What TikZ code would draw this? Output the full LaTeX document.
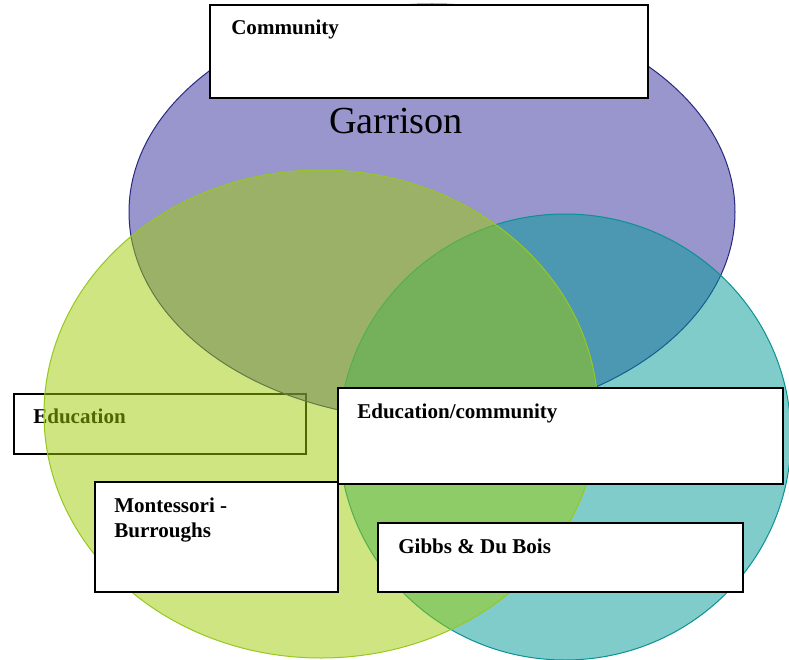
\documentclass[tikz,border=0pt]{standalone}
\usepackage{fontspec}
\setmainfont{Liberation Serif}
\definecolor{communityfill}{RGB}{49,45,153}
\definecolor{communityline}{RGB}{40,40,130}
\definecolor{educationfill}{RGB}{158,204,4}
\definecolor{educationline}{RGB}{150,200,30}
\definecolor{sharedfill}{RGB}{1,153,151}
\definecolor{sharedline}{RGB}{10,145,150}

\begin{document}
\begin{tikzpicture}[x=0.75pt, y=-0.75pt,
  labelbox/.style={draw=black, line width=1.5pt, fill=white, anchor=north west, inner sep=0pt},
  labeltext/.style={anchor=base west, inner sep=0pt, align=left, font=\fontsize{15.8}{18.75}\selectfont\bfseries},
  circle set/.style={line width=0.75pt, fill opacity=0.5}]
\useasboundingbox (0,0) rectangle (789,660);

% Education label (sits under the circles)
\node[labelbox, minimum width=219pt, minimum height=45pt] (education) at (13,393) {};
\node[labeltext] (education-text) at ([shift={(20,30)}]education.north west) {Education};

% Venn circles
\draw[circle set, draw=communityline, fill=communityfill] (432,212) ellipse [x radius=303, y radius=208];
\draw[circle set, draw=sharedline, fill=sharedfill] (565,437) ellipse [x radius=226, y radius=223];
\draw[circle set, draw=educationline, fill=educationfill] (321,414) ellipse [x radius=277, y radius=244];

\node[anchor=base, inner sep=0pt, font=\fontsize{28.7}{34}\selectfont] (garrison) at (396,133) {Garrison};

% Community label
\node[labelbox, minimum width=328.5pt, minimum height=69.75pt] (community) at (209,4) {};
\node[labeltext] (community-text) at ([shift={(22,31)}]community.north west) {Community};

% Education/community label
\node[labelbox, minimum width=333.75pt, minimum height=72pt] (educom) at (337,387) {};
\node[labeltext] (educom-text) at ([shift={(20,31)}]educom.north west) {Education/community};

% Montessori - Burroughs (base is the last line)
\node[labelbox, minimum width=182.25pt, minimum height=82.5pt] (montessori) at (94,481) {};
\node[labeltext] (montessori-text) at ([shift={(20,56)}]montessori.north west) {Montessori -\\Burroughs};

% Gibbs & Du Bois
\node[labelbox, minimum width=273.75pt, minimum height=51.75pt] (gibbs) at (377,522) {};
\node[labeltext] (gibbs-text) at ([shift={(21,31)}]gibbs.north west) {Gibbs \& Du Bois};
\end{tikzpicture}
\end{document}
